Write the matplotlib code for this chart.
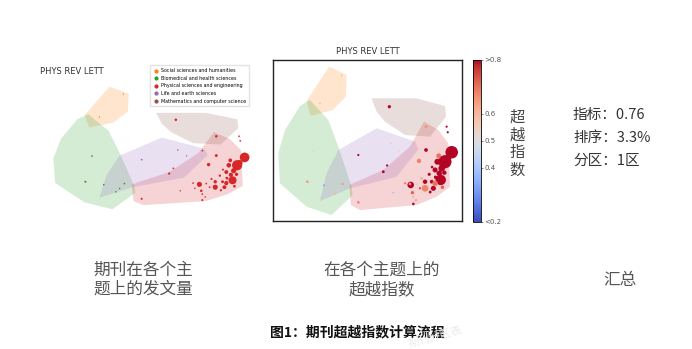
import numpy as np
import matplotlib.pyplot as plt
from matplotlib.patches import Polygon
from matplotlib.lines import Line2D
from matplotlib.cm import ScalarMappable
from matplotlib.colors import Normalize

plt.rcParams['font.family'] = ['Noto Sans CJK SC', 'DejaVu Sans']

journal = "PHYS REV LETT"
fields = ["Social sciences and humanities", "Biomedical and health sciences",
          "Physical sciences and engineering", "Life and earth sciences",
          "Mathematics and computer science"]
field_colors = ['#ff7f0e', '#2ca02c', '#d62728', '#9467bd', '#8c564b']

# convex hulls of each field in the topic map
hull_social = [(29.6, 95.9), (38.8, 90.7), (38.4, 77.2), (31.4, 68.9), (19.8, 65.2), (17.6, 74.5)]
hull_bio = [(2.6, 42.0), (6.2, 56.5), (14.1, 71.4), (19.4, 75.2), (29.1, 62.7), (34.4, 46.2),
            (41.4, 21.3), (42.0, 16.1), (30.9, 3.7), (17.6, 8.9), (3.5, 23.4)]
hull_phys = [(79.7, 61.7), (87.3, 56.5), (92.6, 48.2), (93.5, 21.3), (86.4, 15.1), (75.8, 9.9),
             (56.4, 7.9), (45.9, 6.8), (41.1, 9.9), (40.2, 22.4), (58.2, 31.7), (72.3, 46.2)]
hull_life = [(34.4, 44.1), (54.7, 57.6), (75.0, 49.3), (76.7, 44.5), (65.3, 27.5),
             (40.6, 20.3), (24.7, 12.4), (28.2, 29.6)]
hull_math = [(52.0, 76.2), (75.8, 76.2), (90.8, 71.4), (91.4, 64.8), (82.9, 52.4),
             (69.7, 53.4), (59.1, 61.7), (54.7, 67.9)]
hulls = [hull_social, hull_bio, hull_phys, hull_life, hull_math]

# topics: position, radius (px), field index, exceedance index
pt_x = [94.4, 90.8, 88.6, 86.8, 85.6, 84.7, 80.3, 72.7, 73.6, 80.3, 83.8, 77.1, 80.8, 80.8,
        91.7, 92.3, 58.2, 69.7, 74.1, 74.1, 77.6, 85.6, 61.4, 45.0, 36.2, 74.1, 21.2, 18.0,
        26.8, 36.7, 34.4, 45.0, 32.6, 24.7, 72.3, 63.5, 62.3, 89.1, 87.8, 85.6, 66.6, 60.2,
        92.0, 90.5, 87.5, 86.0, 82.5, 78.5, 76.0, 83.0, 89.5, 84.0, 70.5, 75.5]
pt_y = [42.7, 36.8, 25.5, 36.8, 31.7, 20.3, 20.3, 22.4, 17.6, 24.4, 24.4, 37.3, 44.1, 58.6,
        58.6, 55.1, 30.6, 23.4, 15.1, 10.6, 20.3, 27.5, 71.0, 41.0, 90.3, 47.8, 43.7, 24.4,
        22.2, 23.0, 19.3, 11.6, 16.8, 73.1, 23.0, 17.6, 48.3, 32.7, 29.6, 23.4, 43.8, 34.5,
        38.5, 30.0, 40.5, 27.0, 29.0, 26.5, 23.0, 18.0, 21.0, 33.5, 19.5, 13.0]
pt_r = [5.7, 6.0, 4.7, 2.7, 2.3, 2.3, 3.0, 3.0, 1.5, 2.0, 1.7, 2.0, 1.7, 1.5,
        1.0, 1.0, 1.3, 1.0, 1.0, 1.2, 1.0, 1.0, 1.5, 1.0, 0.8, 1.0, 1.0, 1.2,
        1.0, 1.0, 0.9, 1.2, 0.9, 0.8, 1.2, 0.8, 0.9, 3.0, 2.5, 2.5, 0.8, 1.0,
        3.5, 2.0, 2.2, 1.6, 1.4, 1.2, 1.0, 1.3, 1.6, 1.2, 0.9, 0.9]
pt_field = [2, 2, 2, 2, 2, 2, 2, 2, 2, 2, 2, 2, 2, 2,
            2, 2, 2, 2, 2, 2, 2, 2, 2, 3, 0, 2, 1, 1,
            1, 1, 1, 2, 1, 0, 2, 2, 3, 2, 2, 2, 3, 2,
            2, 2, 2, 2, 2, 2, 2, 2, 2, 2, 2, 2]
pt_val = [0.9, 0.9, 0.88, 0.85, 0.85, 0.8, 0.68, 0.82, 0.72, 0.85, 0.85, 0.68, 0.85, 0.65,
          0.85, 0.85, 0.8, 0.7, 0.6, 0.8, 0.75, 0.85, 0.88, 0.8, 0.58, 0.6, 0.48, 0.65,
          0.35, 0.65, 0.55, 0.68, 0.6, 0.58, 0.65, 0.38, 0.55, 0.88, 0.9, 0.7, 0.55, 0.8,
          0.9, 0.85, 0.7, 0.88, 0.8, 0.62, 0.55, 0.85, 0.72, 0.88, 0.5, 0.66]

cbar_ticks = [0.2, 0.4, 0.5, 0.6, 0.8]
cbar_labels = ['<0.2', '0.4', '0.5', '0.6', '>0.8']

summary = ["指标：0.76", "排序：3.3%", "分区：1区"]

W, H = 692, 349
fig = plt.figure(figsize=(W / 100, H / 100), dpi=100)


def box(x0, y0, x1, y1):
    # pixel box (top-left origin) -> figure fraction
    return [x0 / W, 1 - y1 / H, (x1 - x0) / W, (y1 - y0) / H]


def draw_hulls(ax):
    for h, c in zip(hulls, field_colors):
        ax.add_patch(Polygon(h, closed=True, facecolor=c, alpha=0.2, edgecolor='none'))


pt_x = np.array(pt_x)
pt_y = np.array(pt_y)
pt_r = np.array(pt_r)

# left: papers per topic
ax1 = fig.add_axes(box(47.9, 81.2, 256.3, 214.2))
draw_hulls(ax1)
s1 = (2 * pt_r * 0.85 * 0.72) ** 2
ax1.scatter(pt_x, pt_y, s=s1, c=[field_colors[f] for f in pt_field], edgecolors='none', zorder=3)
ax1.set_xlim(0, 100)
ax1.set_ylim(0, 100)
ax1.axis('off')
fig.text(40 / W, 1 - 71 / H, journal, fontsize=6, color='#333333', va='center', family='DejaVu Sans')
handles = [Line2D([], [], marker='o', ls='none', color=c, markersize=2) for c in field_colors]
fig.legend(handles, fields, loc='upper left', bbox_to_anchor=(148 / W, 1 - 63 / H),
           frameon=True, edgecolor='#dddddd', fancybox=False,
           handlelength=1, handletextpad=0.6, borderpad=0.6, labelspacing=0.55,
           prop={'family': 'DejaVu Sans', 'size': 3.4})

# middle: exceedance index per topic
ax2 = fig.add_axes(box(273.3, 60, 462.3, 221))
draw_hulls(ax2)
norm = Normalize(0.2, 0.8)
s2 = (2 * pt_r * 1.1 * 0.72) ** 2
ax2.scatter(pt_x, pt_y, s=s2, c=pt_val, cmap='coolwarm', norm=norm, edgecolors='none', zorder=3)
ax2.set_xlim(0, 100)
ax2.set_ylim(0, 100)
ax2.set_xticks([])
ax2.set_yticks([])
for sp in ax2.spines.values():
    sp.set_color('#222222')
    sp.set_linewidth(1.0)
ax2.set_title(journal, fontsize=6, color='#333333', pad=4, family='DejaVu Sans')

cax = fig.add_axes(box(473.3, 60, 480.7, 221.5))
cb = fig.colorbar(ScalarMappable(norm=norm, cmap='coolwarm'), cax=cax)
cb.set_ticks(cbar_ticks)
cb.set_ticklabels(cbar_labels)
cb.ax.tick_params(labelsize=5, length=1.5, width=0.5, colors='#555555', pad=1)
for t in cb.ax.get_yticklabels():
    t.set_family('DejaVu Sans')
cb.outline.set_linewidth(0.6)
fig.text(517 / W, 1 - 144 / H, "超\n越\n指\n数", fontsize=11, color='#444444',
         ha='center', va='center', linespacing=1.05)

# right: summary
for i, line in enumerate(summary):
    fig.text(573 / W, 1 - (115 + 23 * i) / H, line, fontsize=10.5, color='#333333', va='center')

# captions
fig.text(93 / W, 1 - 280 / H, "期刊在各个主\n题上的发文量", fontsize=12, color='#555555',
         ha='left', va='center', linespacing=1.15)
fig.text(382 / W, 1 - 280 / H, "在各个主题上的\n超越指数", fontsize=12, color='#555555',
         ha='center', va='center', linespacing=1.15)
fig.text(620 / W, 1 - 280 / H, "汇总", fontsize=12, color='#555555', ha='center', va='center')
fig.text(357 / W, 1 - 332 / H, "图1：期刊超越指数计算流程", fontsize=10, fontweight='bold',
         color='#111111', ha='center', va='center')
fig.text(435 / W, 1 - 337 / H, "期刊分区表", fontsize=8, color='#ececec', ha='center',
         va='center', rotation=15)

fig.savefig('out.png', dpi=100)
